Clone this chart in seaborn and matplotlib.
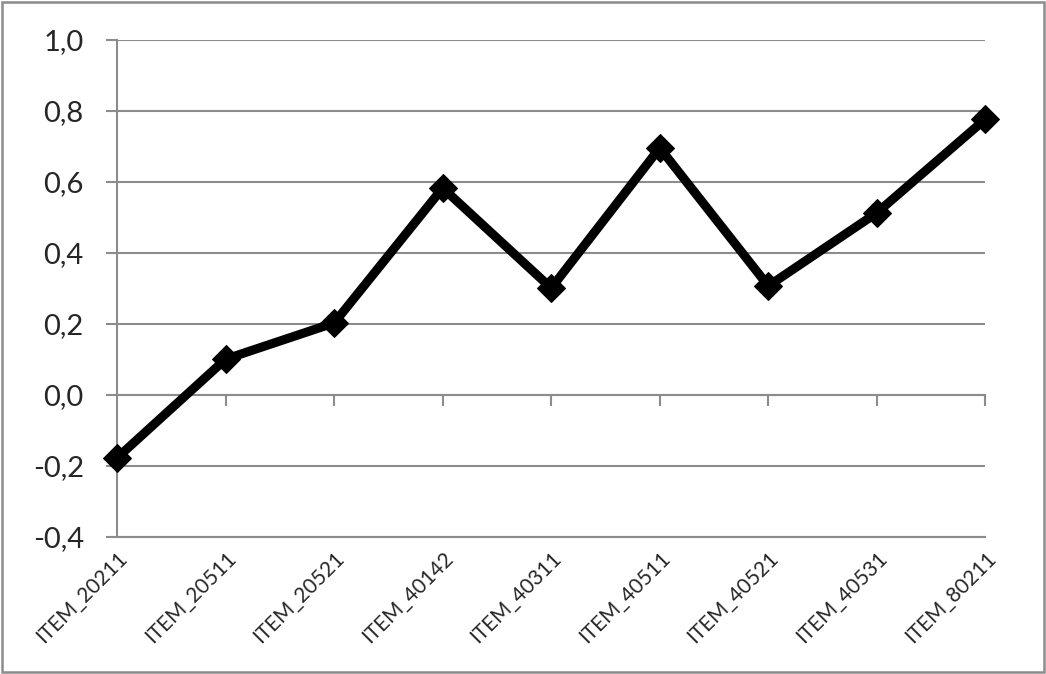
import pandas as pd
import matplotlib.pyplot as plt
import seaborn as sns
from matplotlib.patches import Rectangle
from matplotlib.ticker import FuncFormatter

# =========================================
# DATA
# =========================================

items = [
    "ITEM_20211", "ITEM_20511", "ITEM_20521", "ITEM_40142", "ITEM_40311",
    "ITEM_40511", "ITEM_40521", "ITEM_40531", "ITEM_80211"
]
values = [-0.177, 0.101, 0.203, 0.583, 0.301, 0.696, 0.307, 0.513, 0.777]
y_ticks = [-0.4, -0.2, 0.0, 0.2, 0.4, 0.6, 0.8, 1.0]

df = pd.DataFrame({"item": items, "value": values})
df["pos"] = range(len(items))

# =========================================
# STYLE
# =========================================

sns.set_style("white")
plt.rcParams["font.family"] = ["Lato", "DejaVu Sans"]

grid_col = "#8c8c8c"

fig = plt.figure(figsize=(10.46, 6.74), dpi=100)
ax = fig.add_axes([0.112, 0.2033, 0.830, 0.7374])

# =========================================
# LINE
# =========================================

sns.lineplot(
    data=df, x="pos", y="value", ax=ax,
    color="black", linewidth=6.5, marker="D", markersize=14,
    markeredgecolor="black", clip_on=False, zorder=5
)

ax.set_xlim(0, len(items) - 1)
ax.set_ylim(-0.4, 1.0)
ax.set_yticks(y_ticks)
ax.yaxis.set_major_formatter(
    FuncFormatter(lambda v, p: f"{v:.1f}".replace(".", ","))
)
ax.yaxis.grid(True, color=grid_col, linewidth=1.5)
ax.xaxis.grid(False)

for s in ["top", "right"]:
    ax.spines[s].set_visible(False)
ax.spines["left"].set_color(grid_col)
ax.spines["left"].set_linewidth(1.5)
ax.spines["bottom"].set_color(grid_col)
ax.spines["bottom"].set_linewidth(1.5)

ax.tick_params(axis="y", length=8, width=1.5, color=grid_col,
               labelsize=21, pad=16, direction="out", left=True)

ax.set_xticks(df["pos"])
ax.set_xticklabels(items, rotation=45, ha="right", rotation_mode="anchor",
                   fontsize=15)
ax.tick_params(axis="x", length=0, pad=8)

# category axis crosses at 0
sec = ax.secondary_xaxis(0.4 / 1.4)
sec.set_xticks(df["pos"][1:])
sec.set_xticklabels([])
sec.tick_params(axis="x", length=8, width=1.5, color=grid_col, direction="out")
sec.spines["bottom"].set_color(grid_col)
sec.spines["bottom"].set_linewidth(1.5)

ax.set_xlabel("")
ax.set_ylabel("")

# outer chart border
fig.add_artist(Rectangle((0.002, 0.003), 0.996, 0.994, transform=fig.transFigure,
                         fill=False, edgecolor=grid_col, linewidth=1.8))

plt.savefig("out.png", dpi=100)
